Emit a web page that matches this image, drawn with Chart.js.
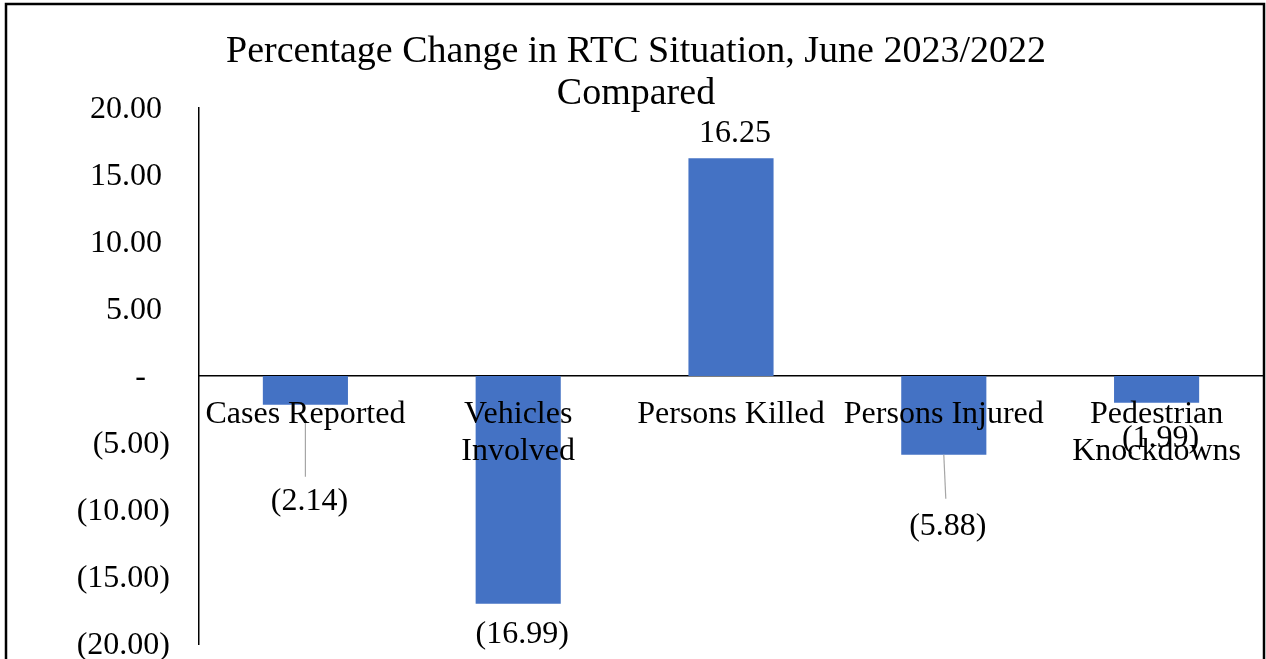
<!DOCTYPE html>
<html>
<head>
<meta charset="utf-8">
<script src="https://cdn.jsdelivr.net/npm/chart.js@4.4.0/dist/chart.umd.min.js"></script>
<style>
  body { margin: 0; background: #fff; }
  canvas { display: block; }
</style>
</head>
<body>
<canvas id="rtcChart" width="1266" height="659"></canvas>
<script>
// chart data
var categories = ['Cases Reported', 'Vehicles Involved', 'Persons Killed', 'Persons Injured', 'Pedestrian Knockdowns'];
var categoryLines = [['Cases Reported'], ['Vehicles', 'Involved'], ['Persons Killed'], ['Persons Injured'], ['Pedestrian', 'Knockdowns']];
var changePct = [-2.14, -16.99, 16.25, -5.88, -1.99];
var yMin = -20, yMax = 20, yStep = 5;
var titleLines = ['Percentage Change in RTC Situation, June 2023/2022', 'Compared'];

// where Excel had dragged the value labels (px beyond the bar end)
var labelOffsets = [95, 29, 27, 70, 34];
var leaderLines = [{from: 18, to: 72}, null, null, {from: 0, to: 44}, null];

var serif = '"Liberation Serif", "Times New Roman", serif';

function fmtAccounting(v) {
    if (v === 0) return '-   ';
    if (v < 0) return '(' + Math.abs(v).toFixed(2) + ')';
    return v.toFixed(2) + ' ';
}
function fmtValue(v) {
    return v < 0 ? '(' + Math.abs(v).toFixed(2) + ')' : v.toFixed(2);
}
function noPadding(scale) {
    scale.paddingLeft = 0;
    scale.paddingRight = 0;
    scale.paddingTop = 0;
    scale.paddingBottom = 0;
}

var frameAndTitle = {
    id: 'frameAndTitle',
    afterDraw: function(chart) {
        var ctx = chart.ctx;
        ctx.save();
        ctx.strokeStyle = '#000';
        ctx.lineWidth = 2.5;
        ctx.strokeRect(6, 4, 1258, 720);
        ctx.fillStyle = '#000';
        ctx.font = '38px ' + serif;
        ctx.textAlign = 'center';
        ctx.textBaseline = 'middle';
        ctx.fillText(titleLines[0], 636, 52);
        ctx.fillText(titleLines[1], 636, 94);
        ctx.restore();
    }
};

var valueLabels = {
    id: 'valueLabels',
    afterDatasetsDraw: function(chart) {
        var ctx = chart.ctx;
        var bars = chart.getDatasetMeta(0).data;
        ctx.save();
        ctx.font = '32px ' + serif;
        ctx.textAlign = 'center';
        ctx.textBaseline = 'middle';
        bars.forEach(function(bar, i) {
            var v = changePct[i];
            var dir = v < 0 ? 1 : -1;
            var ly = bar.y + dir * labelOffsets[i] + 2;
            var lead = leaderLines[i];
            if (lead) {
                ctx.strokeStyle = '#A6A6A6';
                ctx.lineWidth = 1.2;
                ctx.beginPath();
                ctx.moveTo(bar.x, bar.y + dir * lead.from);
                ctx.lineTo(bar.x + (i === 3 ? 2 : 0), bar.y + dir * lead.to);
                ctx.stroke();
            }
            ctx.fillStyle = '#000';
            ctx.fillText(fmtValue(v), bar.x + 4, ly);
        });
        ctx.restore();
    }
};

var ctx = document.getElementById('rtcChart');
var rtcChart = new Chart(ctx, {
    type: 'bar',
    data: {
        labels: categories,
        datasets: [{
            label: 'Percentage Change',
            data: changePct,
            backgroundColor: '#4472C4',
            borderWidth: 0,
            categoryPercentage: 1,
            barPercentage: 0.4
        }]
    },
    options: {
        responsive: false,
        animation: false,
        devicePixelRatio: 1,
        layout: { padding: { top: 108, bottom: 15, left: 0, right: 3 } },
        plugins: {
            legend: { display: false },
            title: { display: false },
            tooltip: { enabled: false }
        },
        scales: {
            x: {
                position: { y: 0 },
                afterFit: noPadding,
                grid: { display: false, drawTicks: false },
                border: { display: true, color: '#000', width: 1.5 },
                ticks: {
                    z: 1,
                    color: '#000',
                    padding: 21,
                    maxRotation: 0,
                    autoSkip: false,
                    font: { family: serif, size: 32, lineHeight: 1.13 },
                    callback: function(val, idx) { return categoryLines[idx]; }
                }
            },
            y: {
                min: yMin,
                max: yMax,
                afterFit: function(scale) { noPadding(scale); scale.width = 199; },
                grid: { display: false, drawTicks: false },
                border: { display: true, color: '#000', width: 1.5 },
                ticks: {
                    stepSize: yStep,
                    color: '#000',
                    padding: 29,
                    labelOffset: 2,
                    font: { family: serif, size: 32 },
                    callback: function(v) { return fmtAccounting(v); }
                }
            }
        }
    },
    plugins: [valueLabels, frameAndTitle]
});
</script>
</body>
</html>
